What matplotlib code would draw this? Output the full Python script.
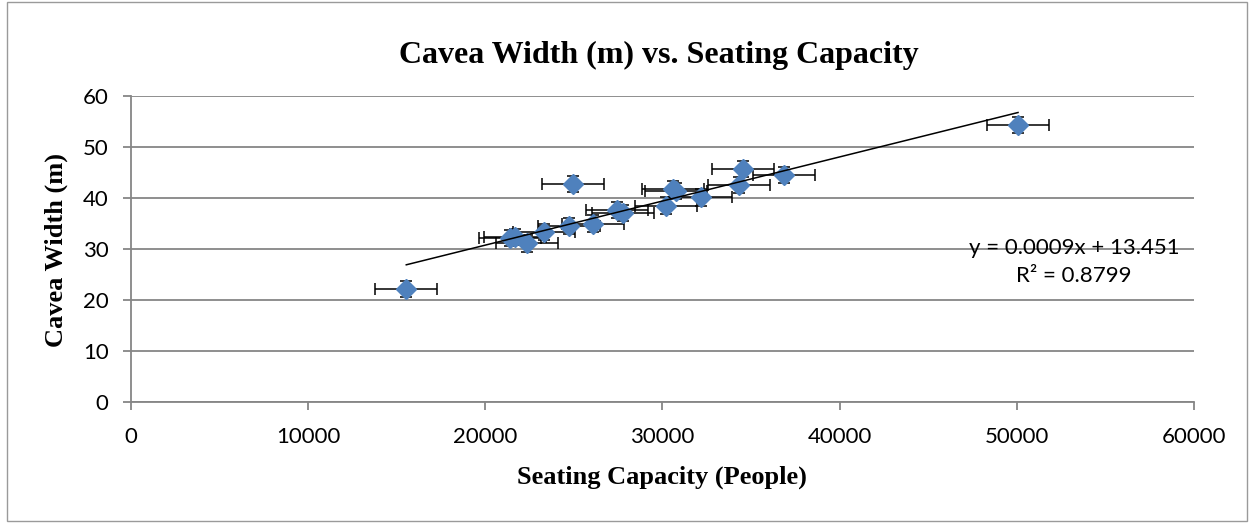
import matplotlib
matplotlib.use("Agg")
import matplotlib.pyplot as plt
from matplotlib.patches import Rectangle
import numpy as np

# ---- data ----
seating = [15550, 24980, 21400, 21690, 22350, 23320, 24750, 26070, 27460, 27770,
           30210, 30590, 30780, 32170, 34350, 34540, 36870, 50070]
cavea_width = [22.1, 42.7, 32.1, 32.4, 31.1, 33.4, 34.5, 35.0, 37.6, 37.0,
               38.5, 41.8, 41.4, 40.1, 42.5, 45.7, 44.5, 54.3]
x_error = 1750
y_error = 1.6
trend_slope = 0.000865
trend_intercept = 13.451
x_ticks = [0, 10000, 20000, 30000, 40000, 50000, 60000]
y_ticks = [0, 10, 20, 30, 40, 50, 60]
title = "Cavea Width (m) vs. Seating Capacity"
x_label = "Seating Capacity (People)"
y_label = "Cavea Width (m)"
eq_text = "y = 0.0009x + 13.451\nR\u00b2 = 0.8799"

W, H = 1255, 523
fig = plt.figure(figsize=(W / 100, H / 100), dpi=100)
ax = fig.add_axes([130.7 / W, 1 - 402 / H, (1194 - 130.7) / W, (402 - 96) / H])

grid_c = "#868686"
blue = "#4F81BD"
tick_font = "Lato"
serif = "Liberation Serif"

# gridlines
ax.set_axisbelow(True)
ax.yaxis.grid(True, color=grid_c, linewidth=1.3)
ax.xaxis.grid(False)

# error bars + markers
ax.errorbar(seating, cavea_width, xerr=x_error, yerr=y_error, fmt="none",
            ecolor="black", elinewidth=1.1, capsize=4.5, capthick=1.1, zorder=3)
ax.plot(seating, cavea_width, linestyle="none", marker="D", markersize=10.2,
        markerfacecolor=blue, markeredgecolor=blue, zorder=4)

# trendline
xs = np.array([min(seating), max(seating)])
ax.plot(xs, trend_slope * xs + trend_intercept, color="black", linewidth=1.1, zorder=5)

ax.set_xlim(x_ticks[0], x_ticks[-1])
ax.set_ylim(y_ticks[0], y_ticks[-1])
ax.set_xticks(x_ticks)
ax.set_yticks(y_ticks)
ax.set_xticklabels([str(v) for v in x_ticks], fontfamily=tick_font, fontsize=16)
ax.set_yticklabels([str(v) for v in y_ticks], fontfamily=tick_font, fontsize=16)

for s in ["top", "right"]:
    ax.spines[s].set_visible(False)
ax.spines["left"].set_color(grid_c)
ax.spines["left"].set_linewidth(1.3)
ax.spines["bottom"].set_color(grid_c)
ax.spines["bottom"].set_linewidth(1.3)
ax.tick_params(axis="both", color=grid_c, width=1.3, length=6, direction="out")
ax.tick_params(axis="x", pad=12)
ax.tick_params(axis="y", pad=10)

# equation text
ax.text(1074 / W, 1 - 262 / H, eq_text, transform=fig.transFigure, ha="center",
        va="center", multialignment="center", fontfamily=tick_font, fontsize=16,
        linespacing=1.55, zorder=6)

# titles
fig.text(659 / W, 1 - 55 / H, title, ha="center", va="center",
         fontfamily=serif, fontweight="bold", fontsize=23)
fig.text(661.5 / W, 1 - 477 / H, x_label, ha="center", va="center",
         fontfamily=serif, fontweight="bold", fontsize=19)
fig.text(56 / W, 1 - 250 / H, y_label, ha="center", va="center", rotation=90,
         fontfamily=serif, fontweight="bold", fontsize=19)

# outer chart border
fig.patches.append(Rectangle((7 / W, 1 - 521 / H), (1247 - 7) / W, (521 - 2) / H,
                             transform=fig.transFigure, fill=False,
                             edgecolor="#9a9a9a", linewidth=1.0))

fig.savefig("out.png", dpi=100)
